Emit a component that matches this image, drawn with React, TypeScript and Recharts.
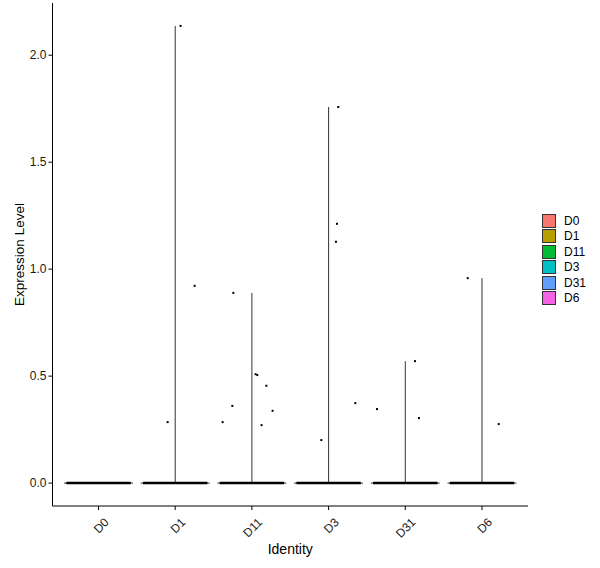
import { ComposedChart, Scatter, XAxis, YAxis, ReferenceLine } from "recharts";

// identities (x categories) and their legend fill colours (ggplot default hue)
const identities = ["D0", "D1", "D11", "D3", "D31", "D6"];
const identityColors = ["#F8766D", "#B79F00", "#00BA38", "#00BFC4", "#619CFF", "#F564E3"];

// max expression per identity (top of the degenerate violin)
const violinMax = [0, 2.137, 0.889, 1.758, 0.57, 0.958];

// non-zero cells: identity index, jitter offset (category units), expression value
const cellIdentity = [1, 1, 1, 2, 2, 2, 2, 2, 2, 2, 2, 3, 3, 3, 3, 3, 4, 4, 4, 5, 5];
const cellJitter = [0.07, 0.253, -0.099, -0.242, 0.048, 0.07, 0.188, -0.255, 0.27, -0.382, 0.126, 0.126, 0.109, 0.096, -0.095, 0.348, 0.126, -0.369, 0.178, -0.186, 0.218];
const cellValue = [2.137, 0.922, 0.285, 0.889, 0.509, 0.505, 0.455, 0.361, 0.338, 0.285, 0.271, 1.758, 1.212, 1.128, 0.201, 0.374, 0.57, 0.346, 0.304, 0.958, 0.276];

const yTicks = [0, 0.5, 1, 1.5, 2];

const font = "'Liberation Sans', Arial, sans-serif";

const cells = cellValue.map((v, i) => ({ x: cellIdentity[i] + cellJitter[i], y: v }));

function Dot(props: any) {
  const { cx, cy } = props;
  return <rect x={cx - 1} y={cy - 1} width={2} height={2} fill="#000" />;
}

function XTick(props: any) {
  const { x, y, payload } = props;
  return (
    <g transform={`translate(${x + 5},${y + 5})`}>
      <text
        transform="rotate(-45)"
        textAnchor="end"
        dy="0.71em"
        fontSize={12}
        fill="#1a1a1a"
        fontFamily={font}
      >
        {identities[payload.value]}
      </text>
    </g>
  );
}

export default function App() {
  return (
    <div style={{ position: "fixed", left: 0, top: 0, width: 600, height: 568, background: "#fff", fontFamily: font }}>
      <ComposedChart width={600} height={568} margin={{ top: 3, right: 72, bottom: 0, left: 0 }}>
        <XAxis
          type="number"
          dataKey="x"
          domain={[-0.6, 5.6]}
          ticks={[0, 1, 2, 3, 4, 5]}
          allowDataOverflow
          height={62}
          stroke="#000"
          tickSize={4}
          tickLine={{ stroke: "#000" }}
          tick={<XTick />}
          label={{ value: "Identity", position: "insideBottom", offset: 14, style: { fontSize: 14, fill: "#000", fontFamily: font } }}
        />
        <YAxis
          type="number"
          dataKey="y"
          domain={[-0.107, 2.244]}
          ticks={yTicks}
          allowDataOverflow
          width={52.5}
          stroke="#000"
          tickSize={4}
          tickLine={{ stroke: "#000" }}
          tickFormatter={(v) => Number(v).toFixed(1)}
          tick={{ fontSize: 12, fill: "#1a1a1a", fontFamily: font }}
          label={{ value: "Expression Level", angle: -90, position: "insideLeft", offset: 19, style: { textAnchor: "middle", fontSize: 13.5, fill: "#000", fontFamily: font } }}
        />
        {identities.map((id, i) =>
          violinMax[i] > 0 ? (
            <ReferenceLine
              key={`v-${id}`}
              segment={[{ x: i, y: 0 }, { x: i, y: violinMax[i] }]}
              stroke="#333"
              strokeWidth={1}
            />
          ) : null
        )}
        {identities.map((id, i) => (
          <ReferenceLine
            key={`hz-${id}`}
            segment={[{ x: i - 0.45, y: 0 }, { x: i + 0.45, y: 0 }]}
            stroke="#333"
            strokeWidth={1}
          />
        ))}
        {identities.map((id, i) => (
          <ReferenceLine
            key={`h-${id}`}
            segment={[{ x: i - 0.42, y: 0 }, { x: i + 0.42, y: 0 }]}
            stroke="#000"
            strokeWidth={2.5}
          />
        ))}
        <Scatter data={cells} shape={<Dot />} isAnimationActive={false} />
      </ComposedChart>
      <div style={{ position: "absolute", left: 542, top: 213 }}>
        {identities.map((id, i) => (
          <div key={id} style={{ display: "flex", alignItems: "center", height: 15.5 }}>
            <span
              style={{
                width: 12,
                height: 12,
                background: identityColors[i],
                border: "1px solid #333",
                display: "inline-block",
              }}
            />
            <span style={{ marginLeft: 8, fontSize: 12, color: "#000" }}>{id}</span>
          </div>
        ))}
      </div>
    </div>
  );
}
